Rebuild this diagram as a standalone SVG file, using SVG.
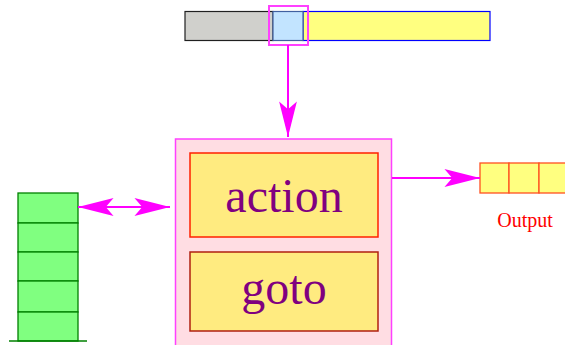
<svg xmlns="http://www.w3.org/2000/svg" width="565" height="345" viewBox="0 0 565 345">
<style>
.conn{stroke:#FF00FF;stroke-width:2;fill:none}
.big{font-family:"Liberation Serif","Times New Roman",serif;font-size:48px;fill:#800080;text-anchor:middle}
.lbl{font-family:"Liberation Serif","Times New Roman",serif;font-size:20px;fill:#FF0000;text-anchor:middle}
.cell{fill:#80FF80;stroke:#008000;stroke-width:1.3}
.out{fill:#FFFF80;stroke:#FF5020;stroke-width:1.3}
</style>
<defs>
<marker id="ah" markerUnits="userSpaceOnUse" markerWidth="40" markerHeight="20" viewBox="-33 -9 34 18" refX="0" refY="0" orient="auto-start-reverse">
<path d="M0,0 L-32,-8 L-25,0 L-32,8 Z" fill="#FF00FF"/>
</marker>
</defs>
<g id="input">
<rect x="185" y="11.5" width="88" height="29" fill="#D0D0CC" stroke="#202020" stroke-width="1.2"/>
<rect x="303" y="11.5" width="187" height="29" fill="#FFFF80" stroke="#0000FF" stroke-width="1.2"/>
<rect x="273" y="11.5" width="30" height="29" fill="#C2E4FF" stroke="#4060A0" stroke-width="1.2"/>
<rect x="269" y="6" width="39" height="39" fill="none" stroke="#FF40FF" stroke-width="2"/>
</g>
<g id="parser">
<rect x="175.5" y="139" width="216" height="220" fill="#FFDDE3" stroke="#FF40FF" stroke-width="1.5"/>
</g>
<g id="action">
<rect x="190" y="153" width="188" height="84" fill="#FFEB80" stroke="#FF2000" stroke-width="1.5"/>
<text class="big" x="284" y="212">action</text>
</g>
<g id="goto">
<rect x="190" y="252" width="188" height="79" fill="#FFEB80" stroke="#B02010" stroke-width="1.5"/>
<text class="big" x="284" y="304">goto</text>
</g>
<g id="stack">
<rect class="cell" x="18" y="193" width="60" height="30"/>
<rect class="cell" x="18" y="223" width="60" height="29"/>
<rect class="cell" x="18" y="252" width="60" height="29"/>
<rect class="cell" x="18" y="281" width="60" height="31"/>
<rect class="cell" x="18" y="312" width="60" height="29"/>
<line x1="9" y1="341" x2="87" y2="341" stroke="#008000" stroke-width="1.3"/>
</g>
<g id="output">
<rect class="out" x="480" y="163" width="29" height="30"/>
<rect class="out" x="509" y="163" width="30" height="30"/>
<rect class="out" x="539" y="163" width="30" height="30"/>
<text class="lbl" x="525" y="227">Output</text>
</g>
<g id="connectors">
<line class="conn" x1="288" y1="45" x2="288" y2="137" marker-end="url(#ah)"/>
<line class="conn" x1="78" y1="207" x2="170" y2="207" marker-start="url(#ah)" marker-end="url(#ah)"/>
<line class="conn" x1="392" y1="178" x2="480" y2="178" marker-end="url(#ah)"/>
</g>
</svg>
